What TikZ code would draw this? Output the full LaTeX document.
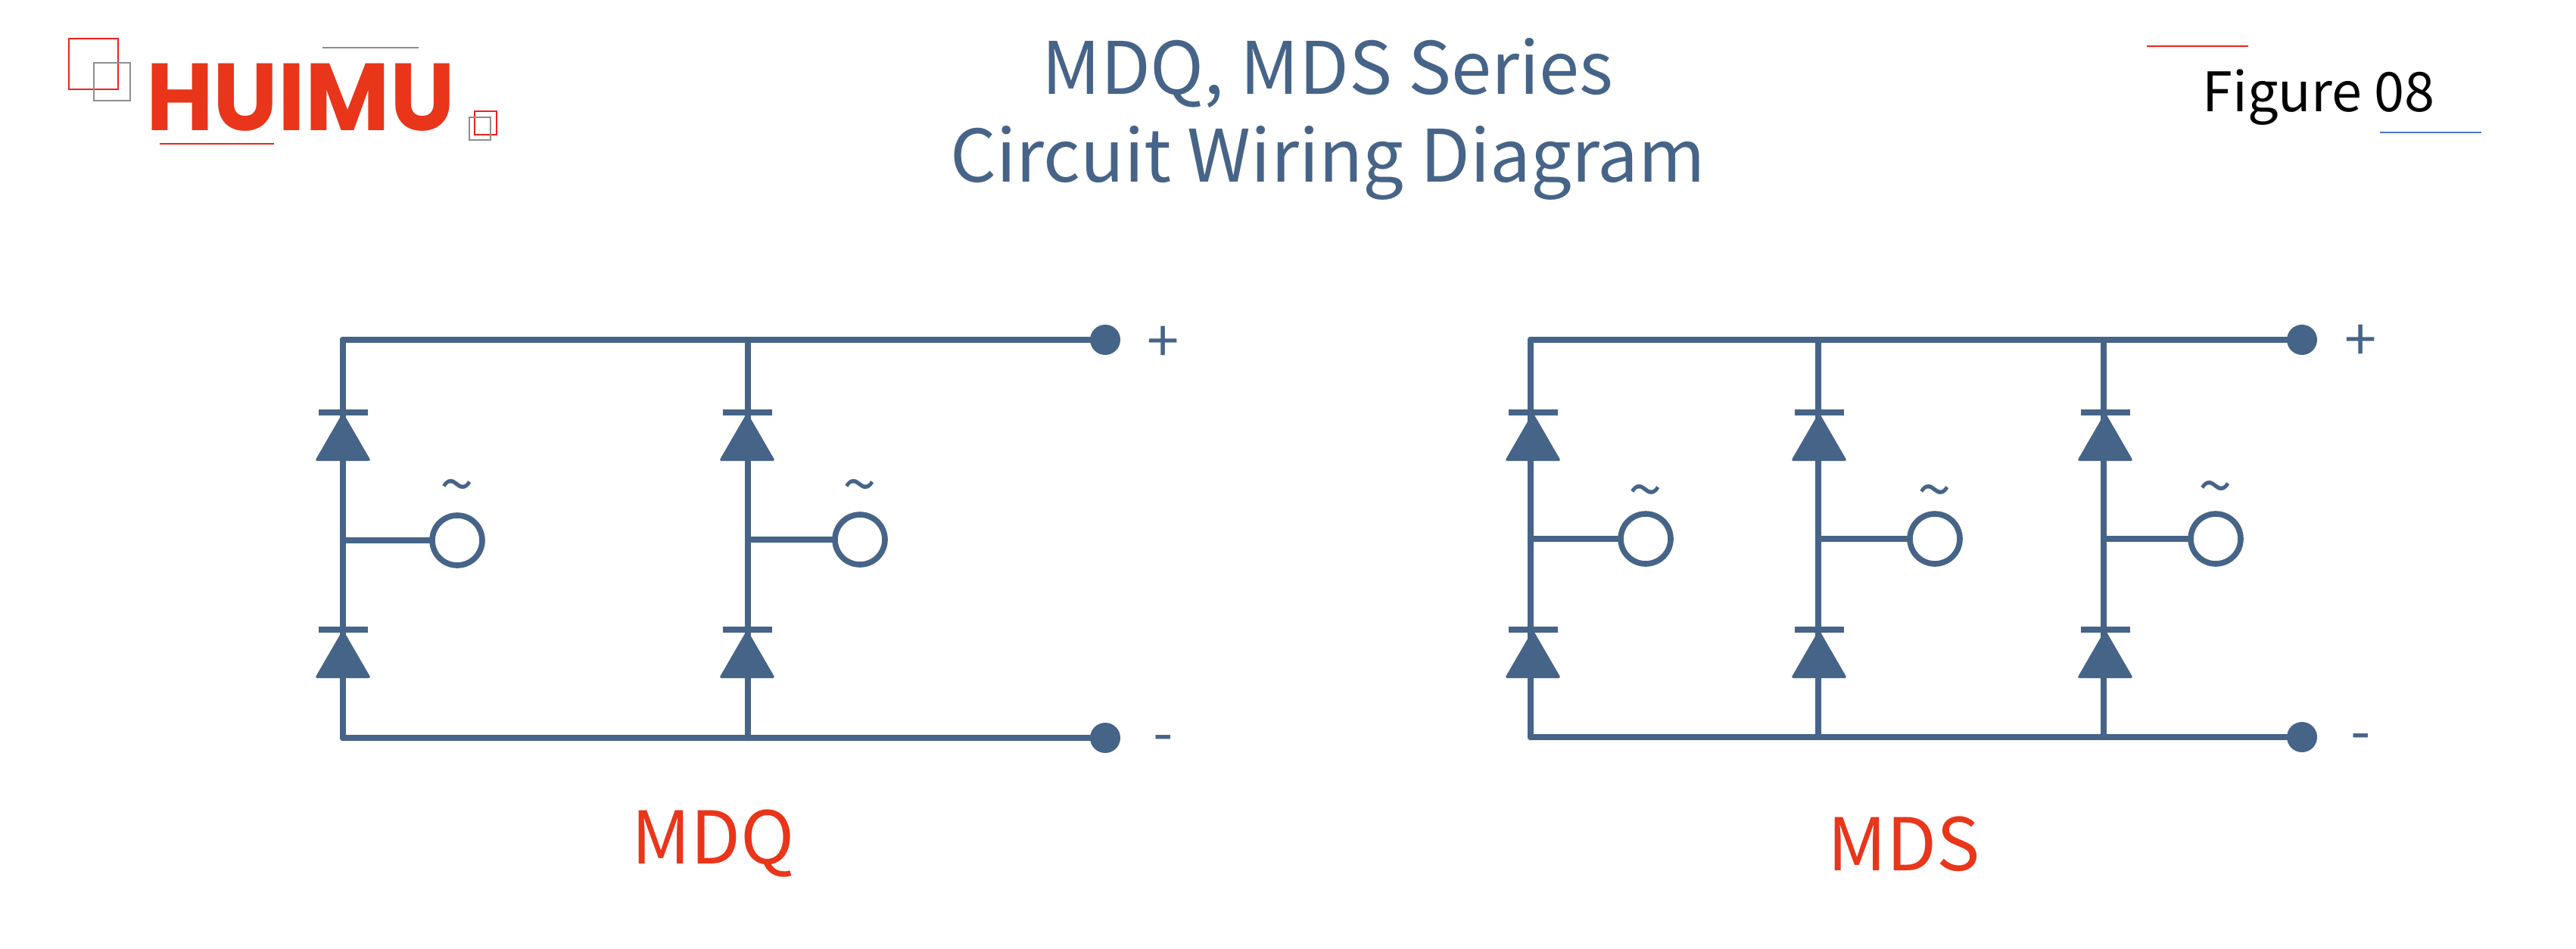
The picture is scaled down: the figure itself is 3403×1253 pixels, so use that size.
\documentclass[tikz,border=0pt]{standalone}
\usepackage{fontspec}
\setmainfont{Noto Sans CJK SC}
\newfontfamily\logofont{Poppins}
\definecolor{wireblue}{HTML}{466488}
\definecolor{huimured}{HTML}{E9351A}
\definecolor{linered}{HTML}{F5201C}
\definecolor{linegrey}{HTML}{8E8E8E}
\definecolor{lineblue}{HTML}{4F74C8}
\newcommand{\fsz}[1]{\fontsize{#1}{#1}\selectfont}

\begin{document}
\begin{tikzpicture}
  [x=.5pt,y=-.5pt,every node/.style={inner sep=0pt,text=wireblue}]
 \tikzset{wire/.style = {draw=wireblue,line width=4.2pt,line cap=round},
   terminal/.style = {circle,fill=wireblue,minimum size=20pt},
   acport/.style = {circle,draw=wireblue,fill=white,line width=3.8pt,minimum size=33pt},
   heading/.style = {font=\fsz{47.8}},
   serieslabel/.style = {font=\fsz{48},text=huimured},
   polarity/.style = {font=\fsz{38}},
   tildemark/.style = {font=\fsz{40}},
   logobox/.style = {draw=#1,line width=.9pt},
   accent/.style = {draw=#1,line width=1pt}}
  \useasboundingbox (0,0) rectangle (3403,1253);

  % logo
  \draw[logobox=linered] (91,51) rectangle (156,118);
  \draw[logobox=linegrey] (124,83) rectangle (172,133);
  \draw[logobox=linered] (627,147) rectangle (656,178);
  \draw[logobox=linegrey] (620,155) rectangle (648,185);
  \draw[accent=linegrey] (426,63) -- (553,63);
  \draw[accent=linered] (211,190) -- (362,190);
  \node[text=huimured] (logo) at (397,129) {\logofont\bfseries\fsz{63}\scalebox{.965}[1]{HUIMU}};

  % headings
  \node[heading,anchor=base] (title1) at (1754,124) {MDQ, MDS Series};
  \node[heading,anchor=base] (title2) at (1754,240) {Circuit Wiring Diagram};
  \node[text=black,font=\fsz{36},anchor=base] (figno) at (3063,147) {Figure 08};
  \draw[accent=linered] (2836,61) -- (2970,61);
  \draw[accent=lineblue] (3144,175) -- (3278,175);

  % rails and legs
  \coordinate (q1t) at (453,449);
  \coordinate (q2t) at (988,449);
  \coordinate (q1b) at (453,975);
  \coordinate (q2b) at (988,975);
  \coordinate (q1m) at (453,714);
  \coordinate (q2m) at (988,713);
  \coordinate (s1t) at (2022,449);
  \coordinate (s2t) at (2402,449);
  \coordinate (s3t) at (2779,449);
  \coordinate (s1b) at (2022,974);
  \coordinate (s2b) at (2402,974);
  \coordinate (s3b) at (2779,974);
  \coordinate (s1m) at (2022,712);
  \coordinate (s2m) at (2402,712);
  \coordinate (s3m) at (2779,712);

  \node[terminal] (qplus) at (1460,449) {};
  \node[terminal] (qminus) at (1460,975) {};
  \node[terminal] (splus) at (3041,449) {};
  \node[terminal] (sminus) at (3041,974) {};
  \node[polarity] (qplustxt) at (1537,455) {+};
  \node[polarity] (qminustxt) at (1537,984) {-};
  \node[polarity] (splustxt) at (3119,453) {+};
  \node[polarity] (sminustxt) at (3119,982) {-};

  \node[acport] (q1ac) at (604,714) {};
  \node[acport] (q2ac) at (1136,713) {};
  \node[acport] (s1ac) at (2174,712) {};
  \node[acport] (s2ac) at (2556,712) {};
  \node[acport] (s3ac) at (2927,712) {};
  \node[tildemark] (q1tilde) at (604,651) {\textasciitilde};
  \node[tildemark] (q2tilde) at (1136,651) {\textasciitilde};
  \node[tildemark] (s1tilde) at (2174,658) {\textasciitilde};
  \node[tildemark] (s2tilde) at (2556,658) {\textasciitilde};
  \node[tildemark] (s3tilde) at (2927,653) {\textasciitilde};

  \foreach \from/\to in {q1t/q1b,q2t/q2b,q1t/qplus,q1b/qminus,q1m/q1ac,q2m/q2ac,
    s1t/s1b,s2t/s2b,s3t/s3b,s1t/splus,s1b/sminus,s1m/s1ac,s2m/s2ac,s3m/s3ac}
    \draw[wire] (\from) to (\to);

  % diodes
  \foreach \x in {453,987,2025,2403,2781}
    \foreach \y in {545,832}
    {
      \fill[wireblue,rounded corners=1.5pt] (\x,\y) -- ++(-37,64) -- ++(74,0) -- cycle;
      \draw[wire,line cap=butt] (\x-32,\y) -- (\x+33,\y);
    }

  \node[serieslabel] (mdq) at (942,1115) {MDQ};
  \node[serieslabel] (mds) at (2515,1115) {MDS};

\end{tikzpicture}
\end{document}
